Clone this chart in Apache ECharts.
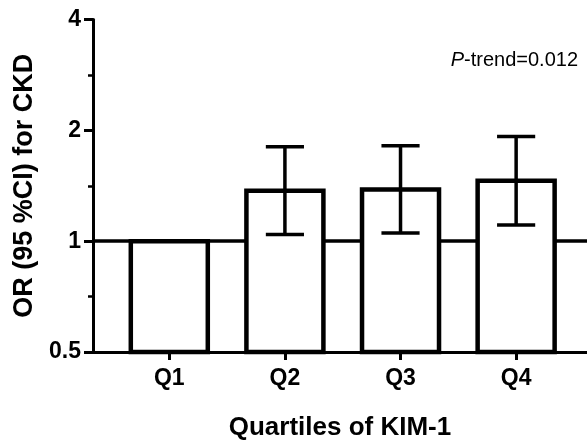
<!DOCTYPE html>
<html>
<head>
<meta charset="utf-8">
<script src="https://cdn.jsdelivr.net/npm/echarts@6/dist/echarts.min.js"></script>
<style>
    html, body { margin: 0; padding: 0; background: #fff; }
    #chart { width: 587px; height: 440px; }
</style>
</head>
<body>
<div id="chart"></div>
<script>
// data
const categories = ['Q1', 'Q2', 'Q3', 'Q4'];
const orValues = [1.0, 1.371, 1.381, 1.458];
const ciLower = [null, 1.043, 1.052, 1.106];
const ciUpper = [null, 1.804, 1.815, 1.923];
const yTicks = [0.5, 1, 2, 4];
const yMinorTicks = [0.707, 1.414, 2.828];
const pTrend = '0.012';

const FONT = 'Liberation Sans, Arial, sans-serif';
const yMin = yTicks[0];
const yMax = yTicks[yTicks.length - 1];

const chart = echarts.init(document.getElementById('chart'));

function renderBar(params, api) {
    const i = api.value(0);
    const v = api.value(1);
    const topLeft = api.coord([i - 0.333, v]);
    const bottomRight = api.coord([i + 0.333, yMin]);
    const children = [{
        type: 'rect',
        shape: {
            x: topLeft[0],
            y: topLeft[1],
            width: bottomRight[0] - topLeft[0],
            height: bottomRight[1] - topLeft[1]
        },
        style: { fill: '#fff', stroke: '#000', lineWidth: 4.5 }
    }];
    const lo = ciLower[params.dataIndex];
    const hi = ciUpper[params.dataIndex];
    if (lo != null && hi != null) {
        const pLo = api.coord([i, lo]);
        const pHi = api.coord([i, hi]);
        const capW = api.size([0.165, 0])[0];
        const st = { stroke: '#000', lineWidth: 3.5 };
        children.push(
            { type: 'line', shape: { x1: pLo[0], y1: pLo[1], x2: pHi[0], y2: pHi[1] }, style: st },
            { type: 'line', shape: { x1: pHi[0] - capW, y1: pHi[1], x2: pHi[0] + capW, y2: pHi[1] }, style: st },
            { type: 'line', shape: { x1: pLo[0] - capW, y1: pLo[1], x2: pLo[0] + capW, y2: pLo[1] }, style: st }
        );
    }
    return { type: 'group', children: children };
}

const option = {
    animation: false,
    backgroundColor: '#fff',
    grid: {
        left: 93,
        right: 0,
        top: 19.5,
        bottom: 88,
        outerBoundsMode: 'none'
    },
    xAxis: {
        type: 'value',
        min: -0.66,
        max: 3.613,
        name: 'Quartiles of KIM-1',
        nameLocation: 'middle',
        nameGap: 63,
        nameTextStyle: { color: '#000', fontSize: 26, fontWeight: 'bold', fontFamily: FONT },
        axisLine: { show: true, onZero: false, lineStyle: { color: '#000', width: 3 } },
        axisTick: { show: true, length: 8, lineStyle: { color: '#000', width: 3 }, customValues: [0, 1, 2, 3] },
        axisLabel: {
            customValues: [0, 1, 2, 3],
            formatter: v => categories[v],
            color: '#000',
            fontSize: 23,
            fontWeight: 'bold',
            fontFamily: FONT,
            margin: 15
        },
        splitLine: { show: false }
    },
    yAxis: [{
        type: 'log',
        logBase: 2,
        min: yMin,
        max: yMax,
        name: 'OR (95 %CI) for CKD',
        nameLocation: 'middle',
        nameGap: 49,
        nameTextStyle: { color: '#000', fontSize: 27, fontWeight: 'bold', fontFamily: FONT },
        axisLine: { show: true, onZero: false, lineStyle: { color: '#000', width: 3 } },
        axisTick: { show: true, length: 9, lineStyle: { color: '#000', width: 3 } },
        axisLabel: {
            color: '#000',
            fontSize: 23,
            fontWeight: 'bold',
            fontFamily: FONT,
            margin: 12
        },
        splitLine: { show: false }
    }, {
        // short in-between ticks
        type: 'log',
        logBase: 2,
        min: yMin,
        max: yMax,
        position: 'left',
        axisLine: { show: false, onZero: false },
        axisTick: { show: true, length: 5, lineStyle: { color: '#000', width: 2.5 }, customValues: yMinorTicks },
        axisLabel: { show: false },
        splitLine: { show: false }
    }],
    graphic: [{
        type: 'text',
        right: 9,
        top: 50,
        style: {
            text: '{i|P}{n|-trend=' + pTrend + '}',
            rich: {
                i: { fontStyle: 'italic', fontSize: 20, fontFamily: FONT, fill: '#000' },
                n: { fontSize: 20, fontFamily: FONT, fill: '#000' }
            }
        }
    }],
    series: [{
        type: 'custom',
        z: 2,
        renderItem: renderBar,
        data: categories.map((c, i) => [i, orValues[i]]),
        markLine: {
            silent: true,
            z: 1,
            symbol: 'none',
            label: { show: false },
            lineStyle: { color: '#000', width: 3.5, type: 'solid' },
            data: [{ yAxis: 1 }]
        }
    }]
};

chart.setOption(option);
</script>
</body>
</html>
